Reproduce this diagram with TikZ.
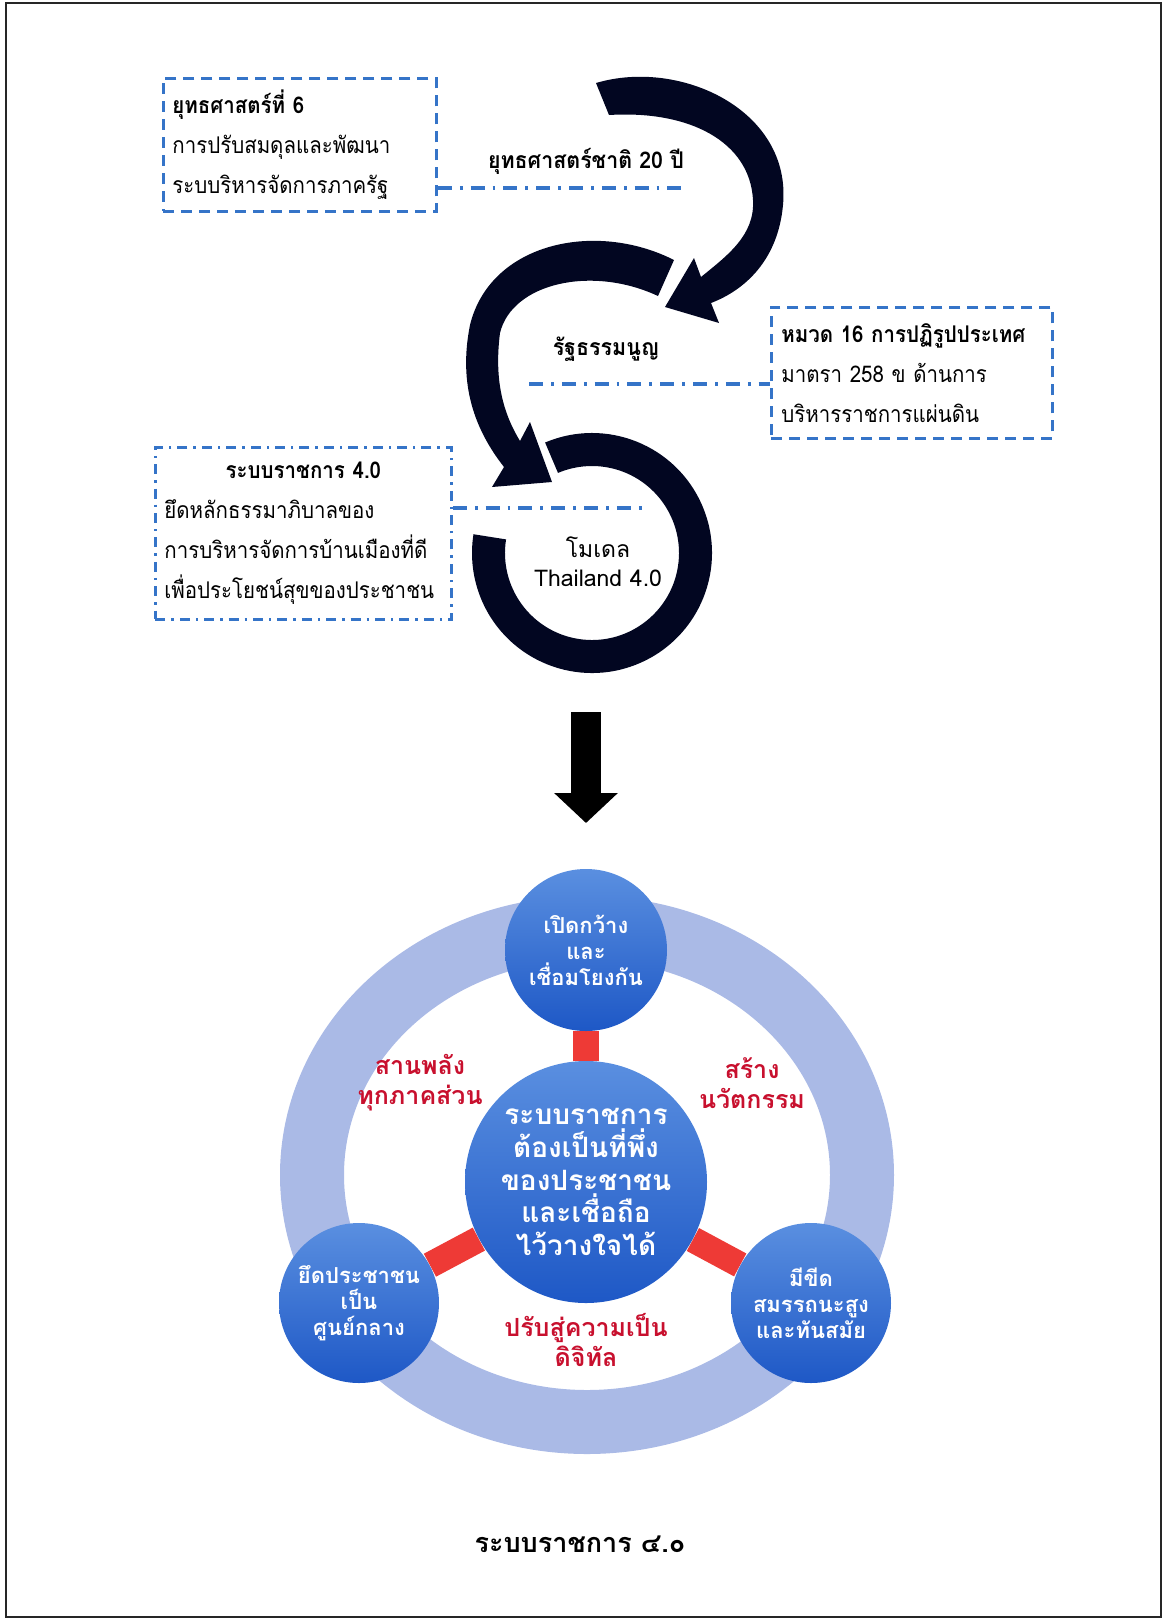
\documentclass[tikz,border=0pt]{standalone}
\usepackage{fontspec}
\usepackage{tikz}
\usetikzlibrary{positioning,arrows.meta}
\newfontfamily\thai[Script=Thai]{Loma}
\newfontfamily\thaibox[Script=Thai, FakeStretch=0.89]{Loma}
\newfontfamily\thaititle[Script=Thai, FakeStretch=0.93]{Loma}
\definecolor{LineBlue}{HTML}{3574C8}
\definecolor{NavyArrow}{HTML}{020621}
\definecolor{RingBlue}{HTML}{AABAE6}
\definecolor{BubbleTop}{HTML}{5A8FE0}
\definecolor{BubbleBottom}{HTML}{1E58C6}
\definecolor{BondRed}{HTML}{EE3A36}
\definecolor{LabelRed}{HTML}{C8102E}
\pgfdeclarelayer{background}
\pgfsetlayers{background,main}

\begin{document}
\begin{tikzpicture}[x=0.5pt, y=-0.5pt, every node/.style={font=\thai}, infobox/.style={draw=LineBlue, line width=1.4pt, dash pattern=on 5.5pt off 3.5pt, anchor=north west, align=left, inner ysep=0pt, font=\thaibox\fontsize{11.5}{20}\selectfont}, linkline/.style={draw=LineBlue, line width=1.6pt, dash pattern=on 7pt off 4pt on 1.4pt off 4pt}, stagelabel/.style={font=\thaititle\bfseries\fontsize{11.5}{14}\selectfont}, swirl/.style={fill=NavyArrow}, bubble/.style={circle, top color=BubbleTop, bottom color=BubbleBottom, text=white, align=center, inner sep=0pt, font=\thai\bfseries\fontsize{11}{13}\selectfont}, redbond/.style={draw=BondRed, line width=13pt}, redlabel/.style={text=LabelRed, align=center, font=\thai\bfseries\fontsize{12.5}{15}\selectfont}, bigdown/.style={line width=15pt, -{Triangle[width=31pt,length=15pt]}}]
\useasboundingbox (0,0) rectangle (1166,1619);
\draw[line width=1.3pt, black!85] (6,3) rectangle (1161,1617);

% three boxes
\node[infobox, text width=127.5pt, inner xsep=4.5pt, minimum height=66.5pt] (strategy) at (162,77) {\textbf{ยุทธศาสตร์ที่ 6}\\การปรับสมดุลและพัฒนา\\ระบบริหารจัดการภาครัฐ};
\node[infobox, text width=130.5pt, inner xsep=5pt, minimum height=65.5pt] (reform) at (770,306) {\textbf{หมวด 16 การปฏิรูปประเทศ}\\มาตรา 258 ข ด้านการ\\บริหารราชการแผ่นดิน};
\node[infobox, dash pattern=on 5pt off 3pt on 1.2pt off 3pt, text width=139pt, inner xsep=4.5pt, minimum height=86pt] (govern) at (154,446) {\makebox[139pt]{\bfseries ระบบราชการ 4.0}\\ยึดหลักธรรมาภิบาลของ\\การบริหารจัดการบ้านเมืองที่ดี\\เพื่อประโยชน์สุขของประชาชน};

\node[stagelabel] (plan) at (586,161) {ยุทธศาสตร์ชาติ 20 ปี};
\node[stagelabel] (charter) at (606,349) {รัฐธรรมนูญ};
\node[align=center, font=\thai\fontsize{11.5}{14.5}\selectfont] (model) at (598,562) {โมเดล\\Thailand 4.0};

\coordinate (planend) at (689,188);
\coordinate (charterend) at (529,384);
\coordinate (modelend) at (645,508);
\draw[linkline] (strategy.east |- planend) -- (planend);
\draw[linkline] (charterend) -- (charterend -| reform.west);
\draw[linkline] (govern.east |- modelend) -- (modelend);

% curved arrows
\fill[swirl] (596,83) .. controls (680,58) and (792,110) .. (783,205) .. controls (778,260) and (745,290) .. (711,303) -- (719,323) -- (665,307) -- (694,258) -- (701,277) .. controls (728,255) and (755,235) .. (753,200) .. controls (750,142) and (690,110) .. (609,115) -- cycle;
\fill[swirl] (674,260) .. controls (595,220) and (490,243) .. (470,325) .. controls (458,385) and (475,430) .. (504,467) -- (492,487) -- (552,482) -- (530,422) -- (520,441) .. controls (503,413) and (494,380) .. (500,333) .. controls (512,283) and (592,265) .. (658,296) -- cycle;
\coordinate (hub) at (592,553);
\fill[swirl] (hub) ++(-113:120) arc[start angle=-113, end angle=189, radius=120] -- ++(189:-33) arc[start angle=189, end angle=-113, radius=87] -- cycle;

\coordinate (downtop) at (586,712);
\coordinate (downtip) at (586,823);
\draw[bigdown] (downtop) -- (downtip);

% bottom diagram
\node[bubble, minimum size=81pt] (openlink) at (586,950) {เปิดกว้าง\\และ\\เชื่อมโยงกัน};
\node[bubble, minimum size=121pt, font=\thai\bfseries\fontsize{14}{16.3}\selectfont] (core) at (586,1182) {ระบบราชการ\\ต้องเป็นที่พึ่ง\\ของประชาชน\\และเชื่อถือ\\ไว้วางใจได้};
\node[bubble, minimum size=80pt] (people) at (359,1303) {ยึดประชาชน\\เป็น\\ศูนย์กลาง};
\node[bubble, minimum size=80pt] (skilled) at (811,1303) {มีขีด\\สมรรถนะสูง\\และทันสมัย};
\begin{pgfonlayer}{background}
\draw[RingBlue, line width=32pt] (587,1175) ellipse [x radius=275, y radius=247];
\draw[redbond] (openlink) -- (core);
\draw[redbond] (people) -- (core);
\draw[redbond] (skilled) -- (core);
\end{pgfonlayer}

\node[redlabel] (synergy) at (420,1083) {สานพลัง\\ทุกภาคส่วน};
\node[redlabel] (innovate) at (752,1083) {สร้าง\\นวัตกรรม};
\node[redlabel] (digital) at (586,1340) {ปรับสู่ความเป็น\\ดิจิทัล};

\node[font=\thai\bfseries\fontsize{13.5}{16}\selectfont] (caption) at (580,1544) {ระบบราชการ ๔.๐};
\end{tikzpicture}
\end{document}
